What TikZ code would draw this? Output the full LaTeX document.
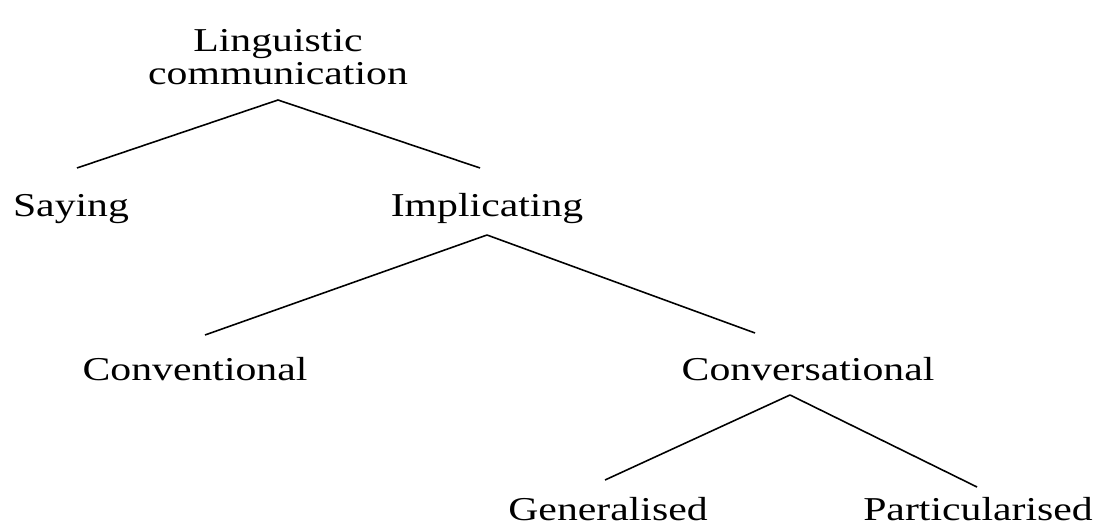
\documentclass[tikz,border=0pt]{standalone}
\usepackage{fontspec}
\setmainfont{Liberation Serif}[FakeStretch=1.25]
\usepackage{tikz}
\usetikzlibrary{calc}

\begin{document}
\begin{tikzpicture}[line width=0.9pt,
  every node/.style={inner sep=0pt, font=\fontsize{19}{19}\selectfont}]
  \useasboundingbox (0,0) rectangle (21.86,-10.46);

  % Labels of the tree
  \node[anchor=south, align=center] (ling) at (5.56,-1.72) {Linguistic\\communication};
  \node[anchor=base] (say)  at (1.42,-4.34) {Saying};
  \node[anchor=base] (impl) at (9.74,-4.34) {Implicating};
  \node[anchor=base] (conv) at (3.90,-7.60) {Conventional};
  \node[anchor=base] (cons) at (16.16,-7.60) {Conversational};
  \node[anchor=base] (gen)  at (12.16,-10.40) {Generalised};
  \node[anchor=base] (part) at (19.56,-10.40) {Particularised};

  % Branch points
  \coordinate (a1) at ([yshift=-0.28cm]ling.south);
  \coordinate (a2) at ([yshift=-0.36cm]impl.base);
  \coordinate (a3) at ([shift={(-0.36,-0.30)}]cons.base);

  % Branches
  \draw (a1) -- ([shift={(0.12,0.98)}]say.base);
  \draw (a1) -- ([shift={(-0.14,0.98)}]impl.base);
  \draw (a2) -- ([shift={(0.20,0.90)}]conv.base);
  \draw (a2) -- ([shift={(-1.06,0.94)}]cons.base);
  \draw (a3) -- ([shift={(-0.06,0.80)}]gen.base);
  \draw (a3) -- ([shift={(-0.02,0.66)}]part.base);
\end{tikzpicture}
\end{document}
